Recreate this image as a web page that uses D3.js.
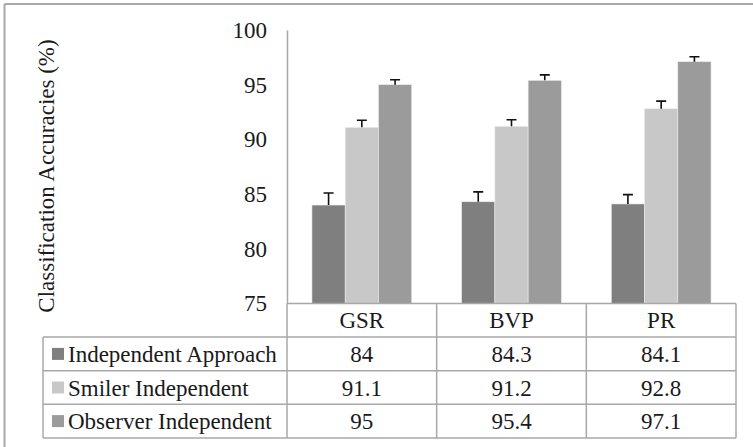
<!DOCTYPE html>
<html>
<head>
<meta charset="utf-8">
<script src="https://cdn.jsdelivr.net/npm/d3@7"></script>
</head>
<body style="margin:0">
<svg id="s" width="753" height="447" font-family="Liberation Serif" font-size="23"></svg>
<script>
const categories = ["GSR", "BVP", "PR"];
const seriesNames = ["Independent Approach", "Smiler Independent", "Observer Independent"];
const independentApproach = [84, 84.3, 84.1];
const smilerIndependent = [91.1, 91.2, 92.8];
const observerIndependent = [95, 95.4, 97.1];
const independentErr = [1.1, 0.9, 0.85];
const smilerErr = [0.65, 0.6, 0.7];
const observerErr = [0.45, 0.5, 0.45];
const yTicks = [75, 80, 85, 90, 95, 100];
const colors = ["#7f7f7f", "#c7c8c7", "#9a9b9a"];

const values = [independentApproach, smilerIndependent, observerIndependent];
const errs = [independentErr, smilerErr, observerErr];

const svg = d3.select("#s");
const gridColor = "#a8a8a8";

function styleText(sel) {
  return sel.attr("font-family", "Liberation Serif").attr("font-size", 23).attr("fill", "#1a1a1a");
}

svg.append("line").attr("x1", 4.5).attr("x2", 753).attr("y1", 4).attr("y2", 4)
  .attr("stroke", gridColor).attr("stroke-width", 2);
svg.append("line").attr("x1", 4.5).attr("x2", 4.5).attr("y1", 4).attr("y2", 447)
  .attr("stroke", gridColor).attr("stroke-width", 2);

const plotLeft = 287, plotRight = 736;
const yTop = 30, yBottom = 303.5;
const tableLeft = 43;
const rowH = 33.6;

const y = d3.scaleLinear().domain([75, 100]).range([yBottom, yTop]);
const x0 = d3.scaleBand().domain(categories).range([plotLeft, plotRight]).padding(0);
const bw = x0.bandwidth();
const x1 = d3.scaleBand().domain(seriesNames).range([bw / 6, bw * 5 / 6]).padding(0);

const yAxis = d3.axisLeft(y).tickValues(yTicks).tickSize(0).tickPadding(20);
const gy = svg.append("g").attr("transform", `translate(${plotLeft},0)`).call(yAxis);
gy.attr("font-family", "Liberation Serif").attr("font-size", 23);
gy.select(".domain").attr("stroke", gridColor).attr("stroke-width", 1.5);
styleText(gy.selectAll("text"));

styleText(svg.append("text")
  .attr("transform", `translate(54,176) rotate(-90)`)
  .attr("text-anchor", "middle")
  .text("Classification Accuracies (%)"));

seriesNames.forEach((s, si) => {
  const g = svg.append("g");
  g.selectAll("rect").data(categories).join("rect")
    .attr("x", (c) => x0(c) + x1(s))
    .attr("width", x1.bandwidth())
    .attr("y", (c, i) => y(values[si][i]))
    .attr("height", (c, i) => y(75) - y(values[si][i]))
    .attr("fill", colors[si])
    .attr("stroke", "#ececec").attr("stroke-width", 0.6);
  g.selectAll("path.err").data(categories).join("path")
    .attr("class", "err")
    .attr("d", (c, i) => {
      const cx = x0(c) + x1(s) + x1.bandwidth() / 2;
      const top = y(values[si][i] + errs[si][i]);
      const base = y(values[si][i]);
      return `M${cx},${base}V${top}M${cx - 5},${top}H${cx + 5}`;
    })
    .attr("stroke", "#111").attr("stroke-width", 1.6).attr("fill", "none");
});

const tableTop = yBottom;
const rows = [0, 1, 2, 3, 4].map((r) => tableTop + r * rowH);
const tableBottom = rows[4];
const lines = svg.append("g").attr("stroke", gridColor).attr("stroke-width", 1.5);
lines.append("line").attr("x1", plotLeft).attr("x2", plotRight).attr("y1", rows[0]).attr("y2", rows[0]);
for (let r = 1; r <= 4; r++) {
  lines.append("line").attr("x1", tableLeft).attr("x2", plotRight).attr("y1", rows[r]).attr("y2", rows[r]);
}
lines.append("line").attr("x1", tableLeft).attr("x2", tableLeft).attr("y1", rows[1]).attr("y2", tableBottom);
lines.append("line").attr("x1", plotLeft).attr("x2", plotLeft).attr("y1", yBottom).attr("y2", tableBottom);
categories.forEach((c) => {
  const xr = x0(c) + bw;
  lines.append("line").attr("x1", xr).attr("x2", xr).attr("y1", rows[0]).attr("y2", tableBottom);
});

styleText(svg.append("g").selectAll("text").data(categories).join("text")
  .attr("x", (c) => x0(c) + bw / 2)
  .attr("y", rows[0] + rowH / 2)
  .attr("dy", "0.35em")
  .attr("text-anchor", "middle")
  .text((c) => c));

seriesNames.forEach((s, si) => {
  const cy = rows[si + 1] + rowH / 2;
  svg.append("rect").attr("x", 52).attr("y", cy - 6).attr("width", 12).attr("height", 12)
    .attr("fill", colors[si]);
  styleText(svg.append("text").attr("x", 68).attr("y", cy).attr("dy", "0.35em").text(s));
  styleText(svg.append("g").selectAll("text").data(categories).join("text")
    .attr("x", (c) => x0(c) + bw / 2)
    .attr("y", cy)
    .attr("dy", "0.35em")
    .attr("text-anchor", "middle")
    .text((c, i) => values[si][i]));
});
</script>
</body>
</html>
